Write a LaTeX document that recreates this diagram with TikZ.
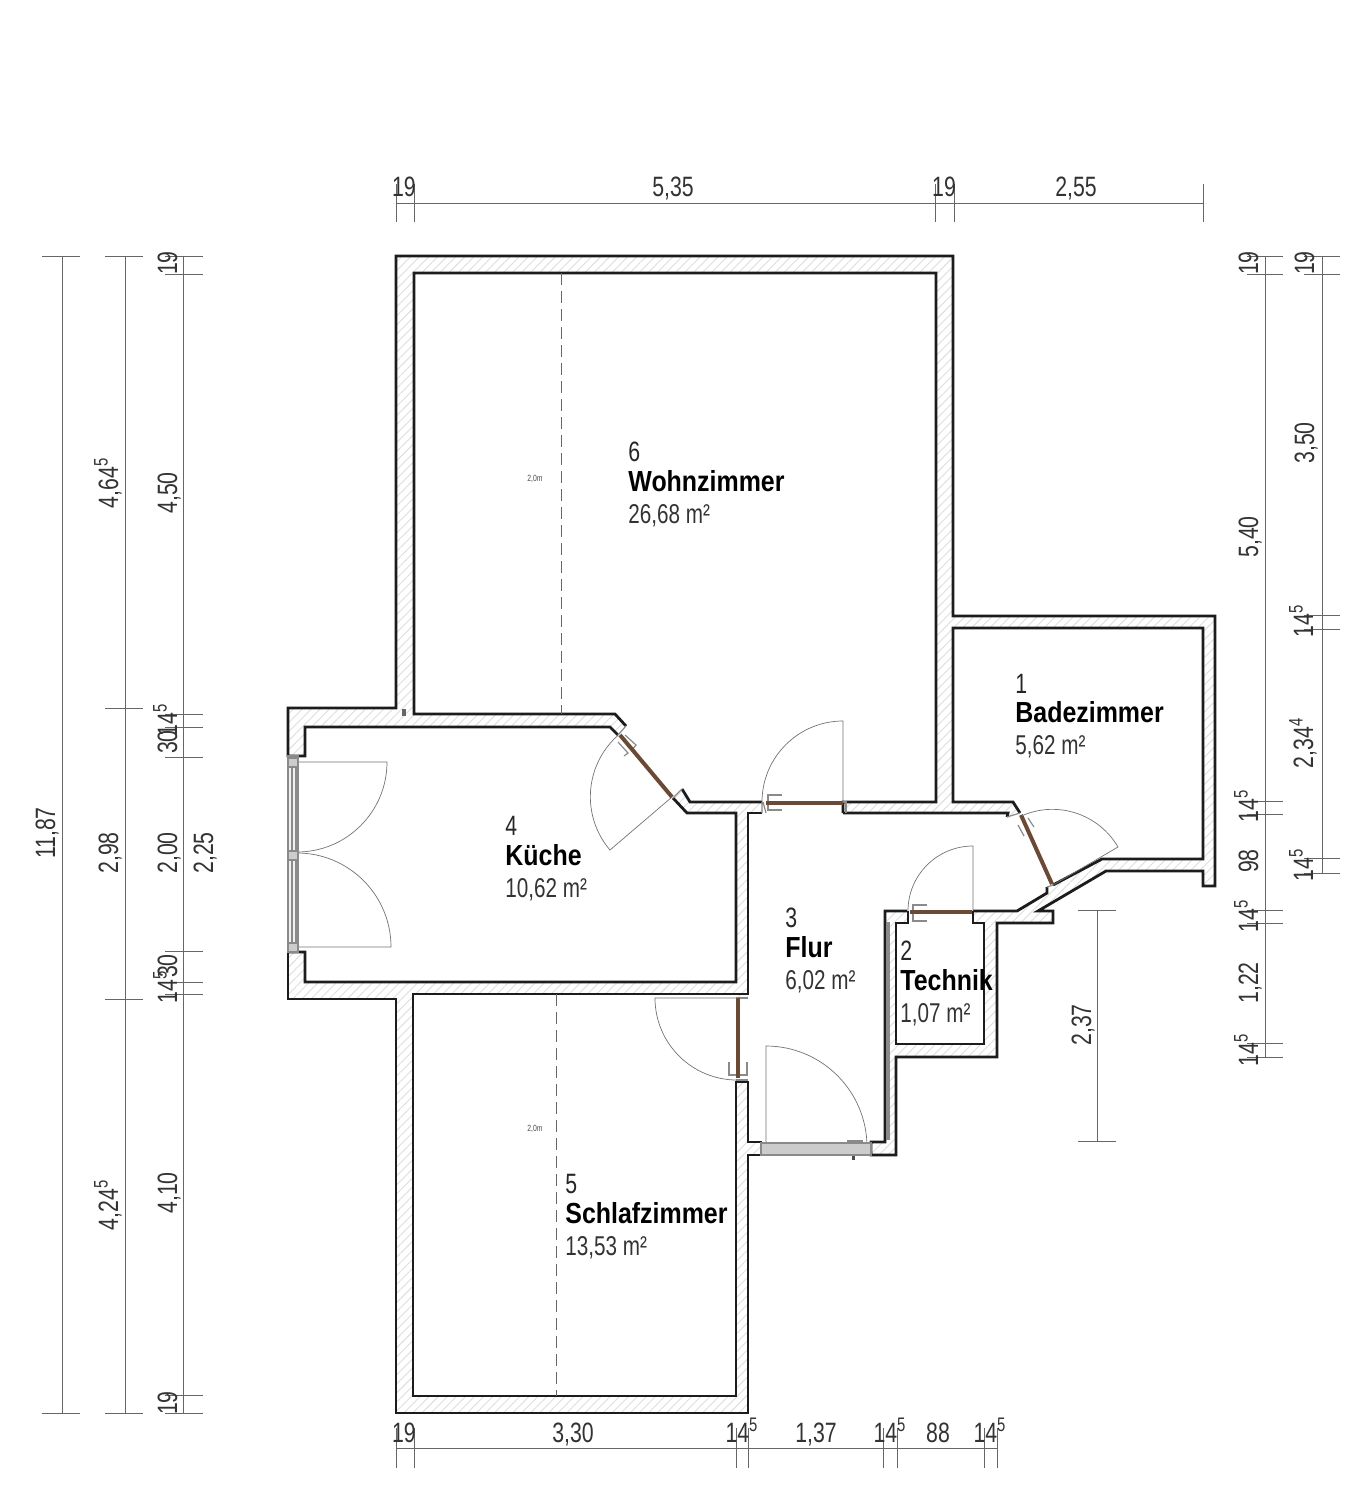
\documentclass[tikz,border=0pt]{standalone}
\usepackage{fontspec}
\setmainfont{Liberation Sans}[FakeStretch=0.76,BoldFeatures={FakeStretch=0.86}]
\usetikzlibrary{patterns.meta}
\definecolor{wl}{HTML}{1c1c1c}
\definecolor{dm}{HTML}{666666}
\definecolor{lf}{HTML}{6b4a35}
\definecolor{jb}{HTML}{8a8a8a}
\tikzset{
    wallhatch/.style={pattern={Lines[angle=45,distance=3.2pt,line width=0.45pt]},pattern color=black!13},
    wallline/.style={draw=wl,line width=1.4pt,line join=miter},
    roomfill/.style={fill=white,draw=none},
    swing/.style={draw=black!55,line width=0.35pt},
    leaf/.style={draw=lf,line width=2pt},
    jamb/.style={draw=jb,line width=0.6pt},
    dimline/.style={draw=dm,line width=0.5pt},
    dimh/.style={font=\fontsize{14}{14}\selectfont,text=black!80,inner sep=0pt,text height=10pt,text depth=0pt},
    dimv/.style={dimh,rotate=90},
    roomno/.style={font=\fontsize{14}{14}\selectfont,text=black!85,anchor=west,inner sep=0pt,text height=10pt,text depth=0pt},
    roomname/.style={font=\fontsize{14.5}{14.5}\selectfont\bfseries,text=black,anchor=west,inner sep=0pt,text height=10.4pt,text depth=0pt},
    roomarea/.style={font=\fontsize{13.6}{13.6}\selectfont,text=black!80,anchor=west,inner sep=0pt,text height=10pt,text depth=0pt},
    headh/.style={font=\fontsize{4.5}{4.5}\selectfont,text=black!70,inner sep=0pt}
}
\begin{document}
\begin{tikzpicture}[x=0.5pt,y=-0.5pt]
    \useasboundingbox (0,0) rectangle (1351,1500);
    \fill[white] (0,0) rectangle (1351,1500);

    % Wall body
    \path[wallhatch] (396,256) -- (953,256) -- (953,616) -- (1215,616) -- (1215,886) -- (1203,886)
        -- (1203,871) -- (1106,871) -- (1038,911) -- (1053,911) -- (1053,923) -- (997,923)
        -- (997,1057) -- (896,1057) -- (896,1155) -- (748,1155) -- (748,1413) -- (396,1413)
        -- (396,999) -- (288,999) -- (288,708) -- (396,708) -- cycle;

    % Rooms
    \path[roomfill] (414,273) -- (936,273) -- (936,802) -- (690,802) -- (682,790) -- (673,798)
        -- (626,727) -- (615,714) -- (414,714) -- cycle;
    \path[roomfill] (953,628) -- (1203,628) -- (1203,859) -- (1102,859) -- (1053,885)
        -- (1020,814) -- (1013,802) -- (953,802) -- cycle;
    \path[roomfill] (305,727) -- (610,727) -- (618,735) -- (673,798) -- (687,813) -- (736,813)
        -- (736,982) -- (305,982) -- (305,952) -- (288,952) -- (288,756) -- (305,756) -- cycle;
    \path[roomfill] (748,813) -- (1008,813) -- (1047,887) -- (1047,893) -- (1017,911) -- (885,911)
        -- (885,1142) -- (748,1142) -- cycle;
    \path[roomfill] (896,923) -- (984,923) -- (984,1044) -- (896,1044) -- cycle;
    \path[roomfill] (413,994) -- (736,994) -- (736,1396) -- (413,1396) -- cycle;

    % Openings
    \path[roomfill] (762,802) rectangle (843,813);
    \path[roomfill] (626,726) -- (618,735) -- (673,798) -- (682,789) -- cycle;
    \path[roomfill] (1020,813) -- (1007,817) -- (1047,887) -- (1053,885) -- cycle;
    \path[roomfill] (907,911) rectangle (973,923);
    \path[roomfill] (736,998) rectangle (748,1082);

    % Wall lines
    \draw[wallline] (618,735) -- (610,727) -- (305,727) -- (305,756) -- (288,756) -- (288,708)
        -- (396,708) -- (396,256) -- (953,256) -- (953,616) -- (1215,616) -- (1215,886)
        -- (1203,886) -- (1203,871) -- (1106,871) -- (1038,911) -- (1053,911) -- (1053,923)
        -- (997,923) -- (997,1057) -- (896,1057) -- (896,1155) -- (871,1155) -- (871,1142)
        -- (885,1142) -- (885,911) -- (907,911);
    \draw[wallline] (288,952) -- (305,952) -- (305,982) -- (736,982) -- (736,813) -- (687,813) -- (673,798);
    \draw[wallline] (288,952) -- (288,999) -- (396,999) -- (396,1413) -- (748,1413) -- (748,1155)
        -- (761,1155) -- (761,1142) -- (748,1142) -- (748,1082) -- (736,1082) -- (736,1396)
        -- (413,1396) -- (413,994) -- (748,994) -- (748,813) -- (762,813);
    \draw[wallline] (682,789) -- (690,802) -- (762,802);
    \draw[wallline] (843,813) -- (843,802) -- (936,802) -- (936,273) -- (414,273) -- (414,714)
        -- (615,714) -- (626,726);
    \draw[wallline] (843,813) -- (1008,813) -- (1007,817);
    \draw[wallline] (1020,813) -- (1013,802) -- (953,802) -- (953,628) -- (1203,628) -- (1203,859)
        -- (1102,859) -- (1053,885);
    \draw[wallline] (1047,887) -- (1047,893) -- (1017,911) -- (973,911);
    \draw[wallline] (908,911) -- (908,923) -- (896,923) -- (896,1044) -- (984,1044) -- (984,923)
        -- (973,923) -- (973,911);
    \draw[draw=jb,line width=1.6pt] (888,922) -- (888,1140);
    \fill[black!60] (402,709) rectangle (406,716);

    % Door jambs
    \draw[jamb] (626,726) -- (618,735) (682,789) -- (673,798);
    \draw[jamb] (1020,813) -- (1007,817) (1047,887) -- (1053,885);
    \draw[jamb] (736,998) -- (748,998) (736,1080) -- (748,1080);
    \draw[jamb] (762,802) -- (762,813) (763,802) -- (766,813);
    \draw[jamb] (843,802) -- (846,802) -- (846,813);
    \draw[jamb] (625,735) -- (636,745) -- (632,750) (618,742) -- (628,753) -- (624,756);
    \draw[jamb] (1028,818) -- (1034,827) (1018,825) -- (1024,836);
    \draw[jamb] (782,795) -- (768,795) -- (768,810) -- (782,810) (768,802) -- (780,802);
    \draw[jamb] (927,905) -- (913,905) -- (913,921) -- (927,921) (913,912) -- (925,912);
    \draw[jamb] (729,1062) -- (729,1075) -- (747,1075) -- (747,1062);
    \draw[jamb] (847,1141) -- (862,1141) -- (862,1147);
    \fill[black!70] (852,1156) rectangle (855,1160);

    % Door leaves
    \draw[leaf] (620,735) -- (672,797);
    \draw[leaf] (766,803) -- (843,803);
    \draw[leaf] (1021,815) -- (1052,884);
    \draw[leaf] (910,912) -- (972,912);
    \draw[leaf] (738,998) -- (738,1078);

    % Door swings
    \draw[swing] (672,797) -- (610,850) arc[start angle=139.5,end angle=228,radius=82];
    \draw[swing] (843,802) -- (843,721) arc[start angle=270,end angle=180,radius=81];
    \draw[swing] (1053,885) -- (1118,847) arc[start angle=329.7,end angle=246.7,radius=76];
    \draw[swing] (973,911) -- (973,846) arc[start angle=270,end angle=180,radius=65];
    \draw[swing] (737,998) -- (655,998) arc[start angle=180,end angle=90,radius=82];
    \draw[swing] (766,1148) -- (766,1046) arc[start angle=270,end angle=360,radius=101];
    \draw[swing] (297,762) -- (387,762) arc[start angle=0,end angle=90,radius=90];
    \draw[swing] (297,947) -- (391,947) arc[start angle=0,end angle=-90,radius=94];

    % French window and entry threshold
    \draw[jamb,fill=black!6] (288,756) rectangle (298,952);
    \draw[jamb] (292,768) -- (292,851) (296,768) -- (296,851) (292,860) -- (296,860) -- (296,945) (292,860) -- (292,945);
    \draw[jamb,fill=black!20] (288,758) rectangle (298,767) (288,851) rectangle (298,860) (288,943) rectangle (298,952);
    \draw[jamb,fill=black!20] (761,1143) rectangle (871,1155);

    % Slope lines
    \draw[draw=black!60,line width=0.4pt,dashed,dash pattern=on 6pt off 3pt] (561,273) -- (561,714);
    \draw[draw=black!60,line width=0.4pt,dashed,dash pattern=on 6pt off 3pt] (556,994) -- (556,1396);
    \node[headh] (headwohn) at (535,479) {2,0m};
    \node[headh] (headschlaf) at (535,1129) {2,0m};

    % Room labels
    \node[roomno] (wohnno) at (628,451) {6};
    \node[roomname] (wohnname) at (628,481) {Wohnzimmer};
    \node[roomarea] (wohnarea) at (628,513) {26,68 m²};
    \node[roomno] (badno) at (1015,683) {1};
    \node[roomname] (badname) at (1015,712) {Badezimmer};
    \node[roomarea] (badarea) at (1015,744) {5,62 m²};
    \node[roomno] (kuecheno) at (505,825) {4};
    \node[roomname] (kuechename) at (505,855) {Küche};
    \node[roomarea] (kuechearea) at (505,887) {10,62 m²};
    \node[roomno] (flurno) at (785,917) {3};
    \node[roomname] (flurname) at (785,947) {Flur};
    \node[roomarea] (flurarea) at (785,979) {6,02 m²};
    \node[roomno] (technikno) at (900,950) {2};
    \node[roomname] (technikname) at (900,980) {Technik};
    \node[roomarea] (technikarea) at (900,1012) {1,07 m²};
    \node[roomno] (schlafno) at (565,1183) {5};
    \node[roomname] (schlafname) at (565,1213) {Schlafzimmer};
    \node[roomarea] (schlafarea) at (565,1245) {13,53 m²};

    % Top dimensions
    \draw[dimline] (396,203) -- (1203,203);
    \foreach \x in {396,414,935,954,1203}
        \draw[dimline] (\x,184) -- (\x,222);
    \node[dimh] (topa) at (404,186) {19};
    \node[dimh] (topb) at (673,186) {5,35};
    \node[dimh] (topc) at (944,186) {19};
    \node[dimh] (topd) at (1076,186) {2,55};

    % Bottom dimensions
    \draw[dimline] (396,1448) -- (997,1448);
    \foreach \x in {396,414,736,748,883,897,984,997}
        \draw[dimline] (\x,1428) -- (\x,1468);
    \node[dimh] (bota) at (404,1432) {19};
    \node[dimh] (botb) at (573,1432) {3,30};
    \node[dimh] (botc) at (742,1432) {14\textsuperscript{5}};
    \node[dimh] (botd) at (816,1432) {1,37};
    \node[dimh] (bote) at (890,1432) {14\textsuperscript{5}};
    \node[dimh] (botf) at (938,1432) {88};
    \node[dimh] (botg) at (990,1432) {14\textsuperscript{5}};

    % Left dimensions
    \draw[dimline] (62,256) -- (62,1413);
    \foreach \y in {256,1413}
        \draw[dimline] (42,\y) -- (80,\y);
    \node[dimv] (lefta) at (45,833) {11,87};
    \draw[dimline] (125,256) -- (125,1413);
    \foreach \y in {256,708,999,1413}
        \draw[dimline] (105,\y) -- (143,\y);
    \node[dimv] (leftb) at (108,483) {4,64\textsuperscript{5}};
    \node[dimv] (leftc) at (108,853) {2,98};
    \node[dimv] (leftd) at (108,1205) {4,24\textsuperscript{5}};
    \draw[dimline] (183,256) -- (183,1413);
    \foreach \y in {256,274,714,727,757,951,982,994,1395,1413}
        \draw[dimline] (165,\y) -- (203,\y);
    \node[dimv] (lefte) at (167,263) {19};
    \node[dimv] (leftf) at (167,493) {4,50};
    \node[dimv] (leftg) at (167,720) {14\textsuperscript{5}};
    \node[dimv] (lefth) at (167,742) {30};
    \node[dimv] (lefti) at (167,853) {2,00};
    \node[dimv] (leftj) at (167,966) {30};
    \node[dimv] (leftk) at (167,987) {14\textsuperscript{5}};
    \node[dimv] (leftl) at (167,1193) {4,10};
    \node[dimv] (leftm) at (167,1403) {19};
    \node[dimv] (leftn) at (203,853) {2,25};

    % Right dimensions
    \draw[dimline] (1265,256) -- (1265,1057);
    \foreach \y in {256,274,801,814,910,923,1043,1057}
        \draw[dimline] (1247,\y) -- (1283,\y);
    \node[dimv] (righta) at (1248,263) {19};
    \node[dimv] (rightb) at (1248,537) {5,40};
    \node[dimv] (rightc) at (1248,806) {14\textsuperscript{5}};
    \node[dimv] (rightd) at (1248,861) {98};
    \node[dimv] (righte) at (1248,916) {14\textsuperscript{5}};
    \node[dimv] (rightf) at (1248,983) {1,22};
    \node[dimv] (rightg) at (1248,1050) {14\textsuperscript{5}};
    \draw[dimline] (1322,256) -- (1322,873);
    \foreach \y in {256,274,615,629,858,873}
        \draw[dimline] (1304,\y) -- (1340,\y);
    \node[dimv] (righth) at (1304,263) {19};
    \node[dimv] (righti) at (1304,443) {3,50};
    \node[dimv] (rightj) at (1303,621) {14\textsuperscript{5}};
    \node[dimv] (rightk) at (1303,743) {2,34\textsuperscript{4}};
    \node[dimv] (rightl) at (1303,865) {14\textsuperscript{5}};

    % Free dimension
    \draw[dimline] (1097,910) -- (1097,1141);
    \foreach \y in {910,1141}
        \draw[dimline] (1078,\y) -- (1116,\y);
    \node[dimv] (freea) at (1081,1025) {2,37};
\end{tikzpicture}
\end{document}
